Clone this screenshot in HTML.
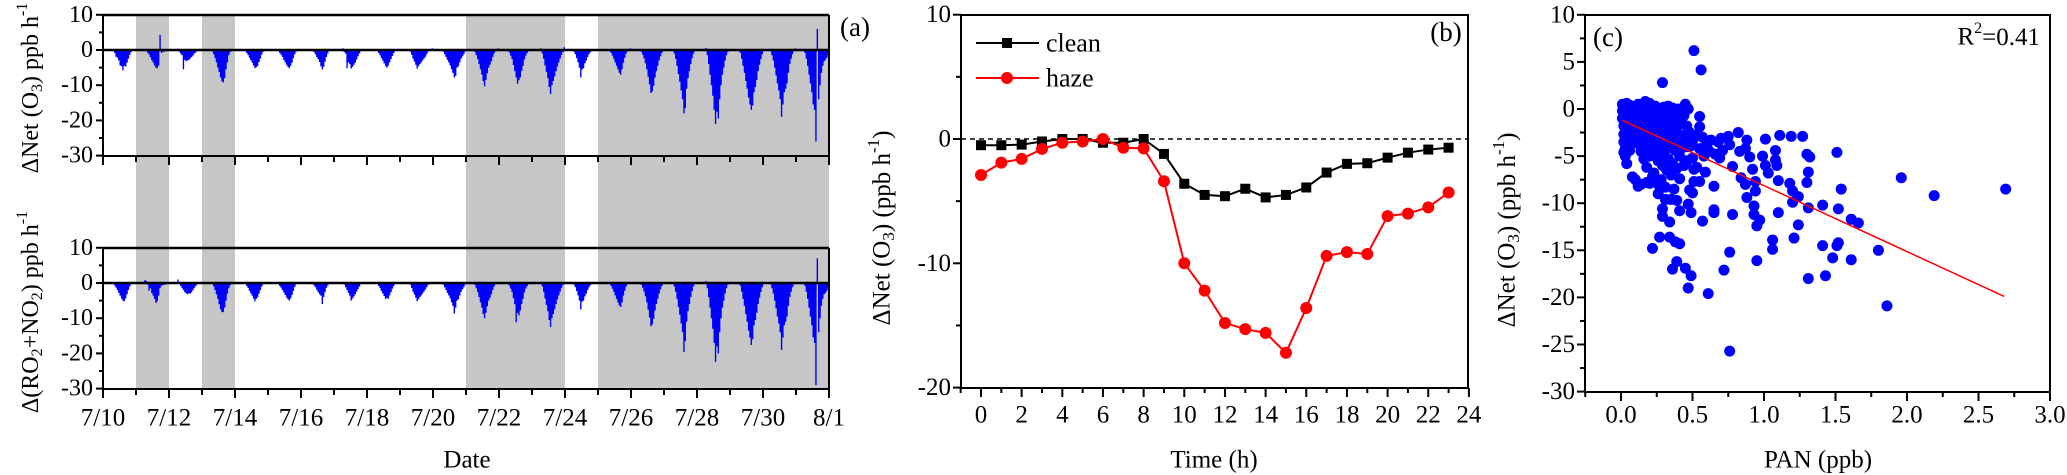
<!DOCTYPE html>
<html><head><meta charset="utf-8"><style>
html,body{margin:0;padding:0;background:#fff;}
svg{display:block;font-family:"Liberation Serif","DejaVu Serif",serif;}
</style></head><body>
<svg id="chart" width="2067" height="475" viewBox="0 0 2067 475" xmlns="http://www.w3.org/2000/svg"></svg>
<script>
// ---------- Panel (a) data: hourly values, one row per day 7/10..7/31 ----------
const aDays = ["7/10","7/11","7/12","7/13","7/14","7/15","7/16","7/17","7/18","7/19","7/20","7/21","7/22","7/23","7/24","7/25","7/26","7/27","7/28","7/29","7/30","7/31"];
const aTickLabels = ["7/10","7/12","7/14","7/16","7/18","7/20","7/22","7/24","7/26","7/28","7/30","8/1"];
const aYTicks = [10,0,-10,-20,-30];
const hazeDayRanges = [[1,2],[3,4],[11,14],[15,22]];
const netO3 = [
[0,0,0,0,0,0,0,-0.3,-0.8,-1.9,-2.2,-3.0,-4.4,-4.6,-5.8,-4.5,-4.7,-3.6,-2.5,-1.4,-0.6,-0.2,0,0],
[0,0,0,0,0,0,0.3,-0.3,-0.8,-1.3,-2.1,-2.9,-3.6,-4.4,-5.0,-5.2,-4.4,4.3,-0.8,-0.6,-0.5,-0.3,-0.3,-0.2],
[0,0,0,0,0,0,0.4,-0.5,-1.0,-1.5,-5.5,-2.8,-3.2,-3.0,-2.8,-2.4,-2.0,-1.6,-1.0,-0.7,-0.4,-0.2,0,0],
[0,0,0,0,0,0,0.3,-0.4,-1.2,-2.3,-3.5,-5.0,-6.2,-7.8,-8.9,-9.2,-8.0,-5.5,-3.5,-1.5,-0.6,-0.2,0,0],
[0,0,0,0,0,0,0,-0.3,-0.8,-1.4,-2.2,-2.9,-3.6,-4.4,-5.1,-4.9,-4.5,-3.4,-2.4,-1.3,-0.5,-0.2,0,0.3],
[0,0,0,0,0,0,0,-0.3,-0.8,-1.3,-2.0,-2.8,-3.5,-4.2,-4.8,-5.2,-4.5,-3.6,-2.3,-1.2,-0.5,-0.1,0,0],
[0,0,0,0,0,0,0,0,-0.3,-0.6,-1.2,-2.0,-2.6,-3.4,-4.6,-5.5,-4.8,-3.3,-2.0,-1.0,-0.3,0,0,0],
[0,0,0,0,0,0,0.5,-0.6,-1.0,-5.2,-3.5,-4.0,-5.3,-4.8,-4.2,-3.6,-2.7,-1.8,-1.0,-0.4,-0.1,0,0,0],
[0,0,0,0,0,0,0,-0.3,-0.8,-1.5,-2.3,-3.0,-3.8,-4.6,-5.0,-4.4,-3.5,-2.6,-1.7,-0.9,-0.3,0,0,0],
[0,0,0,0,0,0,0,-0.5,-1.4,-2.5,-3.3,-4.2,-5.3,-4.6,-4.0,-3.5,-3.0,-2.4,-1.9,-1.2,-0.5,0,0,0.5],
[0,0,0,0,0,0,0,-0.5,-1.2,-2.0,-2.8,-3.5,-4.4,-5.5,-6.5,-7.8,-7.4,-5.0,-4.6,-3.5,-2.5,-1.8,-1.2,-0.5],
[0,0,0,0,0,0,-0.6,-1.5,-2.6,-4.0,-5.5,-7.0,-8.8,-10.3,-8.5,-6.6,-5.0,-4.2,-3.2,-2.0,-1.0,-0.4,-0.1,0.5],
[0,0,0,0,0,0,-0.2,-0.7,-1.6,-2.6,-4.3,-6.0,-7.8,-9.6,-8.6,-7.8,-6.0,-4.5,-2.7,-1.6,-0.9,-0.4,0,0],
[0,0,0,0,0,0,0.5,-1.0,-2.5,-4.4,-6.2,-8.0,-10.5,-12.5,-10.0,-8.8,-7.5,-6.0,-4.7,-3.5,-2.4,-1.4,-0.6,0.8],
[0,0,0,0,0,0,-0.5,-1.2,-2.3,-3.5,-5.0,-7.8,-5.5,-5.2,-3.8,-3.0,-2.0,-1.2,-0.6,-0.2,0,0,0,0],
[0,0,0,0,0,0,0,0,-0.3,-0.8,-1.6,-2.5,-3.5,-4.5,-5.5,-6.5,-7.0,-5.5,-3.6,-2.2,-1.0,-0.4,0,0.5],
[0,0,0,0,0,0,0,-0.5,-1.3,-2.4,-3.8,-5.5,-7.6,-9.8,-12.2,-11.8,-10.2,-7.8,-6.0,-4.5,-3.0,-1.8,-0.8,0],
[0,0,0,0,0,0,0,-1.0,-2.5,-4.5,-6.8,-9.0,-11.5,-14.0,-18.0,-16.5,-11.0,-8.0,-6.0,-4.0,-2.3,-1.0,0,0],
[0,0,0,0,0,0,0.6,-1.5,-4.0,-7.0,-10.0,-13.0,-17.0,-21.0,-17.5,-19.5,-14.0,-10.0,-7.0,-5.0,-3.0,-1.5,-0.5,0],
[0,0,0,0,0,0,0,-0.8,-2.5,-4.5,-6.5,-8.8,-11.0,-13.5,-15.5,-17.0,-15.8,-12.0,-10.5,-8.5,-6.0,-4.2,-2.6,-1.2],
[0,0,0,0,0,-0.4,-1.5,-3.0,-5.0,-7.2,-9.5,-11.5,-14.0,-19.0,-15.5,-12.0,-11.0,-9.5,-6.5,-4.0,-2.5,-1.2,-0.4,0.5],
[0,0,0,0,0,0,-0.8,-2.5,-4.5,-7.0,-9.5,-12.0,-15.5,-17.0,-26.0,6.0,-14.0,-10.0,-6.5,-4.5,-3.2,-2.8,-2.2,-1.5]
];
const ro2no2 = [
[0,0,0,0,0,0,0,-0.3,-0.7,-1.3,-2.0,-2.8,-3.6,-4.4,-5.0,-5.2,-4.4,-3.2,-2.0,-1.0,-0.4,-0.1,0,0],
[0,0,0,0,0,0,0.8,0.6,-0.5,-2.2,-1.5,-2.8,-3.6,-4.5,-5.7,-5.2,-3.6,-1.5,-0.8,-0.6,-0.5,-0.4,-0.3,-0.2],
[0,0,0,0,0,0,1.0,-0.3,-0.8,-1.4,-2.0,-2.6,-3.0,-3.2,-2.9,-3.0,-2.6,-2.0,-1.4,-0.8,-0.4,-0.1,0,0],
[0,0,0,0,0,0,0,-0.3,-1.0,-2.0,-3.2,-4.5,-6.0,-7.5,-8.3,-8.2,-7.0,-5.0,-3.0,-1.5,-0.6,-0.2,0,0],
[0,0,0,0,0,0,0,-0.3,-0.8,-1.4,-2.2,-2.9,-3.6,-4.4,-5.2,-4.5,-4.0,-3.0,-2.0,-1.0,-0.4,-0.1,0,0],
[0,0,0,0,0,0,0,-0.3,-0.8,-1.3,-2.0,-2.7,-3.4,-4.1,-4.6,-5.0,-4.4,-3.4,-2.2,-1.1,-0.4,-0.1,0,0],
[0,0,0,0,0,0,0,0,-0.3,-0.7,-1.2,-1.9,-2.6,-3.2,-3.6,-6.0,-4.0,-2.6,-1.4,-0.7,-0.2,0,0,0],
[0,0,0,0,0,0,0,-0.5,-1.2,-2.0,-2.8,-3.6,-5.0,-4.4,-3.8,-3.2,-2.5,-1.7,-1.0,-0.4,-0.1,0,0,0],
[0,0,0,0,0,0,0,-0.3,-0.8,-1.5,-2.3,-3.0,-3.7,-4.5,-4.2,-4.5,-3.5,-2.6,-1.6,-0.8,-0.3,0,0,0],
[0,0,0,0,0,0,0,-0.5,-1.4,-2.5,-3.3,-4.2,-5.2,-4.6,-4.0,-3.5,-3.0,-2.4,-1.8,-1.2,-0.5,0,0,0],
[0,0,0,0,0,0,0,-0.5,-1.2,-2.0,-2.8,-3.5,-4.4,-5.5,-6.5,-8.7,-7.0,-5.0,-4.6,-3.5,-2.5,-1.8,-1.2,-0.5],
[0,0,0,0,0,0,-0.6,-1.5,-2.6,-4.0,-5.5,-7.0,-8.8,-10.0,-8.5,-6.6,-5.0,-4.2,-3.2,-2.0,-1.0,-0.4,-0.1,0],
[0,0,0,0,0,0,-0.2,-0.7,-1.6,-2.6,-4.3,-6.0,-11.2,-8.5,-9.2,-7.8,-6.0,-4.5,-2.7,-1.6,-0.9,-0.4,0,0],
[0,0,0,0,0,0,0,-1.0,-2.5,-4.4,-6.2,-8.0,-10.5,-12.5,-10.0,-8.8,-7.5,-6.0,-4.7,-3.5,-2.4,-1.4,-0.6,0],
[0,0,0,0,0,0,-0.5,-1.2,-2.3,-3.5,-5.0,-7.5,-5.3,-5.0,-3.8,-3.0,-2.0,-1.2,-0.6,-0.2,0,0,0,0],
[0,0,0,0,0,0,0,0,-0.3,-0.8,-1.6,-2.5,-3.5,-4.5,-5.5,-6.4,-6.8,-5.5,-3.6,-2.2,-1.0,-0.4,0,0],
[0,0,0,0,0,0,0,-0.5,-1.3,-2.4,-3.8,-5.5,-7.6,-9.8,-12.3,-11.8,-10.2,-7.8,-6.0,-4.5,-3.0,-1.8,-0.8,0],
[0,0,0,0,0,0,0,-1.0,-2.5,-4.5,-6.8,-9.0,-11.5,-14.0,-19.6,-16.5,-11.0,-8.0,-6.0,-4.0,-2.3,-1.0,0,0],
[0,0,0,0,0,0,0.6,-1.5,-4.0,-7.0,-10.0,-13.0,-17.0,-22.4,-18.0,-20.0,-14.0,-10.0,-7.0,-5.0,-3.0,-1.5,-0.5,0],
[0,0,0,0,0,0,0,-0.8,-2.5,-4.5,-6.5,-8.8,-11.0,-13.5,-15.5,-17.6,-16.0,-12.0,-10.5,-8.5,-6.0,-4.2,-2.6,-1.2],
[0,0,0,0,0,-0.4,-1.5,-3.0,-5.0,-7.2,-9.5,-11.5,-14.0,-19.0,-15.5,-12.0,-11.0,-9.5,-6.5,-4.0,-2.5,-1.2,-0.4,0],
[0,0,0,0,0,0,-0.8,-2.5,-4.5,-7.0,-9.5,-12.0,-15.5,-17.0,-29.0,7.0,-14.0,-10.0,-6.5,-4.5,-3.2,-2.8,-2.2,-1.5]
];
// ---------- Panel (b) data ----------
const bHours = [0,1,2,3,4,5,6,7,8,9,10,11,12,13,14,15,16,17,18,19,20,21,22,23];
const bClean = [-0.5,-0.5,-0.45,-0.2,0,0,-0.3,-0.3,0,-1.2,-3.6,-4.5,-4.6,-4.0,-4.7,-4.5,-3.9,-2.7,-2.0,-1.95,-1.5,-1.1,-0.85,-0.7];
const bHaze = [-2.9,-1.9,-1.6,-0.8,-0.3,-0.2,0,-0.7,-0.75,-3.4,-10,-12.2,-14.8,-15.3,-15.6,-17.2,-13.6,-9.4,-9.1,-9.25,-6.2,-6.0,-5.5,-4.3];
const bXTicks = [0,2,4,6,8,10,12,14,16,18,20,22,24];
const bYTicks = [10,0,-10,-20];
// ---------- Panel (c) data ----------
const cPan = [0.51,0.56,0.29,0.76,1.86,2.69,2.19,1.96,1.80,1.61,1.66,1.61,1.54,1.51,1.52,1.52,1.51,1.48,1.43,1.41,1.41,1.31,1.31,1.31,1.32,1.30,1.30,1.27,1.19,1.24,1.21,1.24,1.20,1.20,1.18,1.10,1.10,1.09,1.08,1.08,1.11,1.06,1.06,1.01,0.99,1.01,1.03,0.95,0.95,0.97,0.93,0.93,0.94,0.94,0.92,0.90,0.88,0.87,0.88,0.87,0.84,0.83,0.82,0.78,0.78,0.76,0.72,0.76,0.75,0.70,0.69,0.71,0.65,0.65,0.65,0.61,0.57,0.59,0.55,0.50,0.49,0.47,0.49,0.47,0.45,0.41,0.41,0.39,0.38,0.36,0.39,0.34,0.34,0.27,0.22,0.29,0.29,0.31,0.35,0.26,0.20,0.12,0.08,0.51,0.51,0.49,0.55,0.55,0.47,0.45,
0.01,0.01,0.01,0.02,0.02,0.02,0.03,0.03,0.04,0.02,0.03,0.04,0.05,0.05,0.05,0.06,0.06,0.07,0.07,0.08,0.08,0.09,0.09,0.1,0.1,0.1,0.11,0.11,0.12,0.12,0.12,0.13,0.13,0.14,0.14,0.15,0.15,0.15,0.16,0.16,0.17,0.17,0.18,0.18,0.18,0.19,0.19,0.2,0.2,0.2,0.21,0.21,0.22,0.22,0.23,0.23,0.24,0.24,0.25,0.25,0.26,0.26,0.27,0.27,0.28,0.28,0.29,0.29,0.3,0.3,0.3,0.31,0.31,0.32,0.32,0.33,0.33,0.34,0.34,0.35,0.35,0.36,0.36,0.37,0.37,0.38,0.38,0.39,0.39,0.4,0.4,0.41,0.41,0.42,0.42,0.43,0.44,0.44,0.45,0.46,0.46,0.47,0.48,0.48,0.5,0.5,0.52,0.53,0.55,0.57,0.58,0.6,0.62,0.63,0.66,0.68,0.1,0.14,0.18,0.22,0.26,0.06,0.08,0.04,0.33,0.36,0.24,0.2,0.02];
const cNet = [6.2,4.15,2.8,-25.7,-20.9,-8.5,-9.2,-7.3,-15,-16,-12.1,-11.7,-8.5,-4.6,-10.6,-14.2,-14.5,-15.8,-17.7,-14.5,-10.2,-18,-10.5,-6.7,-5.1,-4.8,-7.8,-2.9,-2.9,-12.3,-13.7,-9.3,-9.9,-8.7,-7.9,-11,-7.6,-6,-5.4,-4.4,-2.8,-13.9,-14.9,-3.2,-5,-6,-6.8,-16.1,-12.4,-11.8,-11.2,-10.3,-8.7,-7.7,-6.4,-5.1,-3.3,-4.2,-9.4,-8,-7.3,-4.5,-2.5,-6.1,-11.2,-15.2,-17.1,-3.8,-2.9,-3.1,-5.2,-4.4,-8.2,-11,-10.7,-19.6,-11.9,-6.7,-7.7,-8.9,-11,-10.1,-17.7,-19,-16.9,-14.3,-10.8,-9.7,-14.1,-17,-16.2,-12,-13.6,-13.6,-14.8,-11.4,-10.6,-9.6,-9.6,-9.0,-7.9,-8.2,-7.2,-6.4,-7.7,-3.9,-1.9,-0.8,0,0.5,
0.5,-0.2,-1,-1.8,-2.7,-3.5,-4.2,-5,-5.8,0.2,-0.5,0.6,-0.3,-1.2,-2.2,0.4,-0.8,-1.6,-3.1,0.1,-0.6,-2.4,-1.1,0.3,-0.2,-1.5,-0.9,-2.9,0.5,-0.4,-1.9,-3.8,-0.1,-1.2,-4.5,0.2,-2.5,-0.7,-3.3,-5.3,0.8,-1.6,-0.3,-2.1,-6.2,-4,0.4,-1,-2.8,-5,0.1,-1.8,-3.6,-0.5,-6.8,-2.3,0.3,-1.3,-4.6,-3,-0.8,-5.5,-2,0,-3.9,-7.5,-1.4,-6,0.2,-2.7,-4.8,-0.9,-8.3,-3.4,-6.5,-1.8,-5.3,-0.3,-4.1,-7,-2.5,-1,-5.8,-3.2,-8.5,-0.2,-4.4,-6.3,-2,-3.6,0,-5,-7.4,-2.8,-1.2,-4.1,-6,-0.7,-3,-5.5,-1.8,-4,-8.6,-2.5,-3.4,-5.2,-2.8,-6.2,-4.2,-3,-5,-3.7,-4.5,-3.3,-4.8,-3.5,-7.5,-8,-7.8,-7.2,-8,-4.4,-3.6,-2.9,0.3,0.1,-0.2,0.6,-4.6];
const cFitX = [0.01,2.68];
const cFitY = [-1.2,-19.9];
const cXTicks = ["0.0","0.5","1.0","1.5","2.0","2.5","3.0"];
const cYTicks = [10,5,0,-5,-10,-15,-20,-25,-30];

const NS="http://www.w3.org/2000/svg";
const svg=document.getElementById('chart');
function mk(tag,attrs,parent){const e=document.createElementNS(NS,tag);for(const k in attrs)e.setAttribute(k,attrs[k]);(parent||svg).appendChild(e);return e;}
function txt(str,x,y,size,anchor,parent){const t=mk('text',{x:x,y:y,'font-size':size,'text-anchor':anchor||'middle','dominant-baseline':'central',fill:'#000'},parent);t.textContent=str;return t;}

// ===== Panel (a) =====
const gA=mk('g',{});


const aX0=103, aDay=33;
const ax=d=>aX0+d*aDay;
const aTop={y:v=>50-v*3.52, top:15, bot:156, zero:50};
const aBot={y:v=>283-v*3.52, top:248, bot:389, zero:283};
hazeDayRanges.forEach((r,i)=>{
  const rc=mk('rect',{x:ax(r[0]),y:15,width:ax(r[1])-ax(r[0]),height:374,fill:'#c6c6c6'},gA);
  
  
});
// white gap between plots except for bands is already white
function drawBars(sc,data,name){
  const g=mk('g',{fill:'#0000ff'},gA);
  
  
  let d='';
  data.forEach((row,di)=>row.forEach((v,h)=>{
    if(v===0)return;
    const x=ax(di+h/24), w=aDay/24;
    const y0=sc.y(0), y1=sc.y(v);
    d+=`M${x.toFixed(2)} ${Math.min(y0,y1).toFixed(2)}h${w.toFixed(2)}v${Math.abs(y1-y0).toFixed(2)}h${(-w).toFixed(2)}z`;
  }));
  const p=mk('path',{d:d,fill:'#0000ff'},g);
  
  
}
drawBars(aTop,netO3,'net-o3-series');
drawBars(aBot,ro2no2,'ro2-no2-series');
function aFrame(sc,name,showLabels){
  const g=mk('g',{stroke:'#000','stroke-width':2,fill:'none'},gA);
  
  
  mk('line',{x1:ax(0),y1:sc.top,x2:ax(22),y2:sc.top,'stroke-width':2.5},g);
  mk('line',{x1:ax(0),y1:sc.zero,x2:ax(22),y2:sc.zero,'stroke-width':2.5},g);
  mk('line',{x1:ax(0),y1:sc.top,x2:ax(0),y2:sc.bot},g);
  mk('line',{x1:ax(22),y1:sc.top,x2:ax(22),y2:sc.bot},g);
  mk('line',{x1:ax(0),y1:sc.bot,x2:ax(22),y2:sc.bot},g);
  for(let v=10;v>=-30;v-=5){const major=v%10===0;mk('line',{x1:ax(0),x2:ax(0)-(major?7:4),y1:sc.y(v),y2:sc.y(v)},g);}
  for(let d=0;d<=22;d++){mk('line',{x1:ax(d),x2:ax(d),y1:sc.bot,y2:sc.bot+(d%2===0?9:6)},g);}
  aYTicks.forEach(v=>{const t=txt(String(v),ax(0)-10,sc.y(v),24,'end',gA);});
}
aFrame(aTop,'net-o3-axes');
aFrame(aBot,'ro2-no2-axes');
aTickLabels.forEach((s,i)=>{const t=txt(s,ax(i*2),418,25,'middle',gA);});
let t;
t=txt('Date',467,460,25,'middle',gA);
t=mk('text',{x:0,y:0,'font-size':24,'text-anchor':'middle','dominant-baseline':'central',transform:'translate(31,88) rotate(-90)'},gA);
t.innerHTML='ΔNet (O<tspan font-size="16" dy="6">3</tspan><tspan dy="-6">) ppb h</tspan><tspan font-size="16" dy="-9">-1</tspan>';

t=mk('text',{x:0,y:0,'font-size':24,'text-anchor':'middle','dominant-baseline':'central',transform:'translate(31,312) rotate(-90)'},gA);
t.innerHTML='Δ(RO<tspan font-size="16" dy="6">2</tspan><tspan dy="-6">+NO</tspan><tspan font-size="16" dy="6">2</tspan><tspan dy="-6">) ppb h</tspan><tspan font-size="16" dy="-9">-1</tspan>';

t=txt('(a)',855,27,27,'middle',gA);

// ===== Panel (b) =====
const gB=mk('g',{});


const bx=h=>981+h*20.33;
const by=v=>139-v*12.43;
const bL=961,bR=1468,bT=15,bB=388;
mk('line',{x1:bL,x2:bR,y1:by(0),y2:by(0),stroke:'#000','stroke-width':1.5,'stroke-dasharray':'5,4'},gB);
function series(vals,color,marker,name){
  const g=mk('g',{},gB);
  
  
  mk('polyline',{points:bHours.map((h,i)=>bx(h)+','+by(vals[i])).join(' '),fill:'none',stroke:color,'stroke-width':2},g);
  bHours.forEach((h,i)=>{
    let m;
    if(marker==='sq')m=mk('rect',{x:bx(h)-5,y:by(vals[i])-5,width:10,height:10,fill:color},g);
    else m=mk('circle',{cx:bx(h),cy:by(vals[i]),r:6,fill:color},g);
    
    
  });
}
series(bClean,'#000','sq','clean-series');
series(bHaze,'#ff0000','ci','haze-series');
const gBf=mk('g',{stroke:'#000','stroke-width':2,fill:'none'},gB);


mk('rect',{x:bL,y:bT,width:bR-bL,height:bB-bT},gBf);
for(let v=10;v>=-20;v-=5){mk('line',{x1:bL,x2:bL-(v%10===0?8:5),y1:by(v),y2:by(v)},gBf);}
for(let h=-1;h<=24;h++){mk('line',{x1:bx(h),x2:bx(h),y1:bB,y2:bB+(h%2===0?9:5)},gBf);}
bXTicks.forEach(h=>{const e=txt(String(h),bx(h),415,25,'middle',gB);});
bYTicks.forEach(v=>{const e=txt(String(v),bL-10,by(v),25,'end',gB);});
t=txt('Time (h)',1214,460,25,'middle',gB);
t=mk('text',{x:0,y:0,'font-size':25,'text-anchor':'middle','dominant-baseline':'central',transform:'translate(882,228) rotate(-90)'},gB);
t.innerHTML='ΔNet (O<tspan font-size="17" dy="6">3</tspan><tspan dy="-6">) (ppb h</tspan><tspan font-size="17" dy="-9">-1</tspan><tspan dy="9">)</tspan>';

t=txt('(b)',1446,32,27,'middle',gB);
// legend
const lg=mk('g',{},gB);


const le1=mk('g',{},lg);
mk('line',{x1:976,x2:1039,y1:43,y2:43,stroke:'#000','stroke-width':2},le1);
mk('rect',{x:1002,y:38,width:10,height:10,fill:'#000'},le1);
txt('clean',1046,43,26,'start',le1);
const le2=mk('g',{},lg);
mk('line',{x1:976,x2:1039,y1:78,y2:78,stroke:'#ff0000','stroke-width':2},le2);
mk('circle',{cx:1007,cy:78,r:6,fill:'#ff0000'},le2);
txt('haze',1046,78,26,'start',le2);

// ===== Panel (c) =====
const gC=mk('g',{});


const cx=v=>1621+v*143;
const cy=v=>109-v*9.42;
const cL=1585,cR=2050,cT=15,cB=392;
const pts=mk('g',{fill:'#0000ff'},gC);


cPan.forEach((p,i)=>{const c=mk('circle',{cx:cx(p),cy:cy(cNet[i]),r:5.5},pts);});
const fit=mk('line',{x1:cx(cFitX[0]),y1:cy(cFitY[0]),x2:cx(cFitX[1]),y2:cy(cFitY[1]),stroke:'#ff0000','stroke-width':1.5},gC);

const gCf=mk('g',{stroke:'#000','stroke-width':2,fill:'none'},gC);


mk('rect',{x:cL,y:cT,width:cR-cL,height:cB-cT},gCf);
for(let v=10;v>=-30;v-=2.5){mk('line',{x1:cL,x2:cL-(v%5===0?8:5),y1:cy(v),y2:cy(v)},gCf);}
for(let v=-0.25;v<=3.0001;v+=0.25){const maj=Math.abs(v*2-Math.round(v*2))<1e-6;mk('line',{x1:cx(v),x2:cx(v),y1:cB,y2:cB+(maj?9:5)},gCf);}
cXTicks.forEach(s=>{const e=txt(s,cx(parseFloat(s)),415,25,'middle',gC);});
cYTicks.forEach(v=>{const e=txt(String(v),cL-10,cy(v),25,'end',gC);});
t=txt('PAN (ppb)',1818,460,25,'middle',gC);
t=mk('text',{x:0,y:0,'font-size':25,'text-anchor':'middle','dominant-baseline':'central',transform:'translate(1507,230) rotate(-90)'},gC);
t.innerHTML='ΔNet (O<tspan font-size="17" dy="6">3</tspan><tspan dy="-6">) (ppb h</tspan><tspan font-size="17" dy="-9">-1</tspan><tspan dy="9">)</tspan>';

t=txt('(c)',1608,37,27,'middle',gC);
t=mk('text',{x:2040,y:37,'font-size':25,'text-anchor':'end','dominant-baseline':'central'},gC);
t.innerHTML='R<tspan font-size="16" dy="-9">2</tspan><tspan dy="9">=0.41</tspan>';

</script>
</body></html>
